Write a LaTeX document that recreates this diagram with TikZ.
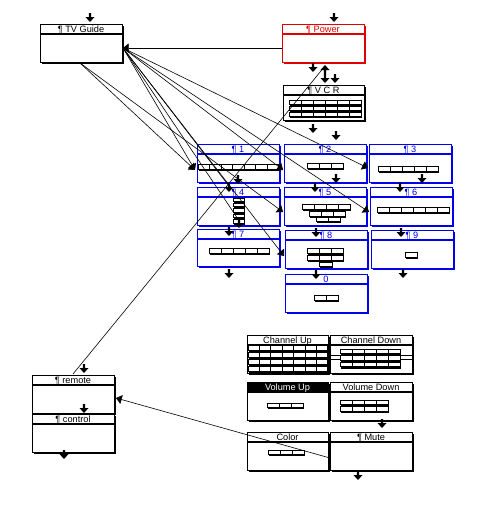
\documentclass[tikz,border=0pt]{standalone}
\usepackage{fontspec}
\setmainfont{Liberation Sans}
\usetikzlibrary{fit,arrows.meta}
\definecolor{hcblue}{RGB}{0,0,235}
\definecolor{hcred}{RGB}{225,0,0}
\tikzset{
  cardbox/.style={draw=#1, fill=white, line width=0.75pt, inner sep=0pt},
  cardshadow/.style={draw=#1, line width=1.6pt},
  cardsep/.style={draw=#1, line width=1.1pt},
  cardtitle/.style={text=#1, font=\fontsize{6.9}{7}\selectfont, inner sep=0pt, anchor=base},
  link/.style={line width=0.45pt, -{Triangle[width=6.8pt,length=4.3pt]}},
  plain/.style={line width=0.45pt},
  hcarrow/.pic={\fill (0,0) -- (-4.5,-5) -- (-1.2,-5) -- (-1.2,-9) -- (1.2,-9) -- (1.2,-5) -- (4.5,-5) -- cycle;}
}
\newcommand\card[7]{%
  \draw[cardshadow=#6] ({#2+2},{#5+1.3}) -- ({#4+1.3},{#5+1.3}) -- ({#4+1.3},{#3+2});
  \node[cardbox=#6, fit={(#2,#3)(#4,#5)}] (#1) {};
  \draw[cardsep=#6] (#2,{#3+10}) -- (#4,{#3+10});
  \node[cardtitle=#6] (#1-t) at ({(#2+#4)/2},{#3+8}) {#7};
}
\newcommand\btns[6]{%
  \foreach \i in {1,...,#3}{\foreach \j in {1,...,#4}{
    \fill ({#1+(\i-1)*#5+1},{#2+(\j-1)*#6+1}) rectangle ++(#5,{#6-1});
    \draw[fill=white, line width=0.5pt] ({#1+(\i-1)*#5},{#2+(\j-1)*#6}) rectangle ++(#5,{#6-2});
  }}
}
\begin{document}
\begin{tikzpicture}[x=0.75pt, y=-0.75pt]
\useasboundingbox (0,0) rectangle (487,507);
\fill[white] (0,0) rectangle (487,507);

% cards
\card{tvguide}{40}{24}{122}{62}{black}{¶ TV Guide}
\card{power}{282}{24}{364}{62}{hcred}{¶ Power}
\card{vcr}{283}{85}{364}{120}{black}{¶ V C R}
\btns{289}{100}{6}{3}{12}{6}

\card{b1}{197}{144}{279}{182}{hcblue}{¶ 1}
\card{b2}{284}{144}{366}{182}{hcblue}{¶ 2}
\card{b3}{369}{144}{451}{182}{hcblue}{¶ 3}
\card{b4}{197}{187}{279}{225}{hcblue}{¶ 4}
\card{b5}{284}{187}{366}{225}{hcblue}{¶ 5}
\card{b6}{370}{187}{452}{225}{hcblue}{¶ 6}
\card{b7}{197}{229}{279}{266}{hcblue}{¶ 7}
\card{b8}{285}{230}{367}{268}{hcblue}{¶ 8}
\card{b9}{371}{230}{453}{268}{hcblue}{¶ 9}
\card{b0}{285}{274}{367}{312}{hcblue}{0}

\btns{198}{164}{7}{1}{11.5}{7}
\btns{307}{163}{3}{1}{12}{7}
\btns{378}{166}{5}{1}{12}{7}
\btns{233}{198}{1}{5}{11}{5.4}
\btns{302}{204}{4}{1}{12}{7}
\btns{309}{211}{3}{1}{12}{7}
\btns{316}{217}{2}{1}{12}{6}
\btns{377}{207}{6}{1}{12}{7}
\btns{209}{248}{5}{1}{12}{7}
\btns{307}{248}{3}{2}{12}{7}
\btns{319}{262}{1}{1}{13}{6}
\btns{405}{252}{1}{1}{12}{7}
\btns{314}{295}{2}{1}{12}{7}

\card{chup}{247}{335}{328}{373}{black}{Channel Up}
\card{chdown}{330}{335}{412}{373}{black}{Channel Down}
\btns{248}{345}{7}{4}{11.4}{7}
\draw[line width=0.5pt] (330,355) -- (412,355) (330,359) -- (412,359);
\btns{340}{349}{5}{3}{12}{6.6}
\card{volup}{247}{382}{328}{420}{black}{}
\fill (247,382) rectangle (328,392);
\node[cardtitle=white] (volup-tt) at (287.5,390) {Volume Up};
\card{voldown}{330}{382}{412}{420}{black}{Volume Down}
\btns{267}{403}{3}{1}{12}{6}
\btns{340}{400}{4}{2}{12}{6.5}
\card{color}{247}{432}{328}{470}{black}{Color}
\card{mute}{330}{432}{412}{470}{black}{¶ Mute}
\btns{268}{450}{3}{1}{12}{6}

\card{remote}{32}{375}{114}{413}{black}{¶ remote}
\card{control}{32}{414}{114}{452}{black}{¶ control}

% link end points
\coordinate (tvR) at (123,48);
\coordinate (tvB) at (80,63);
\coordinate (pwL) at (282,48);
\coordinate (b1L) at (195,170);
\coordinate (b2L) at (283,170);
\coordinate (b3L) at (368,168);
\coordinate (b5L) at (283,212);
\coordinate (b6L) at (369,212);
\coordinate (b8L) at (284,256);
\coordinate (b4T) at (229,186);
\coordinate (b4B) at (240,222);
\coordinate (pwB) at (325,66);
\coordinate (remTL) at (73,374);
\coordinate (muteL) at (330,458);
\coordinate (remR) at (116,398);

\draw[link] (pwL) -- (tvR);
\draw[link] (tvR) -- (b1L);
\draw[link] (tvB) -- (b1L);
\draw[link] (tvR) -- (b2L);
\draw[link] (tvR) -- (b3L);
\draw[link] (tvB) -- (b5L);
\draw[link] (tvR) -- (b6L);
\draw[link] (tvR) -- (b8L);
\draw[plain] (tvR) -- (b4T);
\draw[plain] (tvR) -- (b4B);
\draw[plain] (pwB) -- (remTL);
\draw[link] (muteL) -- (remR);

% standalone arrows
\pic at (90,22) {hcarrow};
\pic at (334,22) {hcarrow};
\pic at (313,72) {hcarrow};
\pic[rotate=180] at (325,65) {hcarrow};
\pic at (325,83) {hcarrow};
\pic at (335,83) {hcarrow};
\pic at (313,133) {hcarrow};
\pic at (336,140) {hcarrow};
\pic at (238,184) {hcarrow};
\pic at (336,183) {hcarrow};
\pic at (422,183) {hcarrow};
\pic at (229,192) {hcarrow};
\pic at (315,192) {hcarrow};
\pic at (400,192) {hcarrow};
\pic at (239,228) {hcarrow};
\pic at (229,236) {hcarrow};
\pic at (316,237) {hcarrow};
\pic at (401,237) {hcarrow};
\pic at (229,278) {hcarrow};
\pic at (316,279) {hcarrow};
\pic at (403,278) {hcarrow};
\pic at (382,428) {hcarrow};
\pic at (358,480) {hcarrow};
\pic at (84,373) {hcarrow};
\pic at (84,413) {hcarrow};
\pic at (64,459) {hcarrow};
\end{tikzpicture}
\end{document}
